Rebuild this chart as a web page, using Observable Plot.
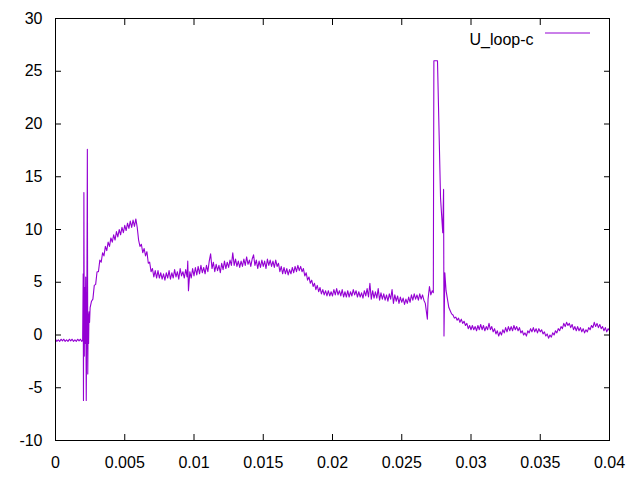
<!DOCTYPE html>
<html>
<head>
<meta charset="utf-8">
<script src="https://cdn.jsdelivr.net/npm/d3@7"></script>
<script src="https://cdn.jsdelivr.net/npm/@observablehq/plot@0.6"></script>
<style>
  html, body { margin: 0; padding: 0; background: #fff; }
  #chart svg { display: block; }
</style>
</head>
<body>
<div id="chart"></div>
<script>
// Series name
const seriesName = "U_loop-c";
// Tick values
const xTicks = [0, 0.005, 0.01, 0.015, 0.02, 0.025, 0.03, 0.035, 0.04];
const yTicks = [-10, -5, 0, 5, 10, 15, 20, 25, 30];

// [time, U] samples, by segment
const baseline = [[0,-0.4],[0.0001,-0.6],[0.0002,-0.45],[0.0003,-0.6],[0.0004,-0.4],[0.0005,-0.55],[0.0006,-0.4],[0.0007,-0.6],[0.0008,-0.45],[0.0009,-0.6],[0.001,-0.4],[0.0011,-0.55],[0.0012,-0.4],[0.0013,-0.6],[0.0014,-0.45],[0.0015,-0.6],[0.0016,-0.4],[0.0017,-0.55],[0.0018,-0.4],[0.0019,-0.6]];
const firstSpikes = [[0.00196,-0.5],[0.002,5.8],[0.00202,-6.2],[0.00205,13.5],[0.00208,-2.0],[0.00211,4.5],[0.00214,-0.8],[0.00218,5.5],[0.00222,-6.2],[0.00226,1.5],[0.0023,17.6],[0.00233,-3.7],[0.00236,2.0],[0.00239,-0.8],[0.00242,2.2],[0.00246,1.2],[0.0025,2.6]];
const rise = [[0.0026,3.2],[0.0027,3.4],[0.0028,4.7],[0.0029,4.8],[0.003,6.0],[0.0031,6.0],[0.0032,7.1],[0.0033,6.9],[0.0034,7.8],[0.0035,7.5],[0.0036,8.4],[0.0037,8.0],[0.0038,8.8],[0.0039,8.4],[0.004,9.2],[0.0041,8.8],[0.0042,9.5],[0.0043,9.0],[0.0044,9.8],[0.0045,9.3],[0.0046,10.0],[0.0047,9.5],[0.0048,10.2],[0.0049,9.7],[0.005,10.4],[0.0051,9.9],[0.0052,10.6],[0.0053,10.1],[0.0054,10.8],[0.0055,10.2],[0.0056,10.9],[0.0057,10.3],[0.0058,11.0],[0.0059,10.2]];
const plateau = [[0.006,9.0],[0.0061,8.4],[0.0062,8.6],[0.0063,7.8],[0.0064,8.2],[0.0065,7.5],[0.0066,7.9],[0.0067,6.8],[0.0068,6.9],[0.0069,6.0],[0.007,6.3],[0.0071,5.5],[0.0072,6.1],[0.0073,5.4],[0.0074,6.1],[0.0075,5.4],[0.0076,5.9],[0.0077,5.3],[0.0078,5.8],[0.0079,5.2],[0.008,5.9],[0.0081,5.4],[0.0082,6.1],[0.0083,5.3],[0.0084,5.9],[0.0085,5.4],[0.0086,6.2],[0.0087,5.5],[0.0088,6.0],[0.0089,5.3],[0.009,6.3],[0.0091,5.6],[0.0092,6.0],[0.0093,5.4],[0.0094,6.2],[0.0095,5.5],[0.00955,7.0],[0.0096,4.2],[0.0097,6.0],[0.0098,5.4],[0.0099,6.3],[0.01,5.6],
[0.0101,6.4],[0.0102,5.7],[0.0103,6.5],[0.0104,5.8],[0.0105,6.6],[0.0106,5.9],[0.0107,6.4],[0.0108,5.8],[0.0109,6.6],[0.011,6.0],[0.0111,7.0],[0.0112,7.7],[0.0113,6.3],[0.0114,6.9],[0.0115,6.0],[0.0116,6.7],[0.0117,6.1],[0.0118,6.6],[0.0119,5.9],[0.012,6.8],[0.0121,6.2],[0.0122,7.0],[0.0123,6.3],[0.0124,6.9],[0.0125,6.4],[0.0126,7.1],[0.0127,6.6],[0.0128,7.8],[0.0129,6.6],[0.013,7.2],[0.0131,6.5],[0.0132,7.0],[0.0133,6.4],[0.0134,7.0],[0.0135,6.5],[0.0136,7.2],[0.0137,6.6],[0.0138,7.4],[0.0139,6.7],[0.014,7.1],[0.0141,6.5],[0.0142,7.2],[0.0143,7.6],[0.0144,6.6],[0.0145,7.1],[0.0146,6.3],[0.0147,7.0],[0.0148,6.4],[0.0149,7.1],[0.015,6.5],
[0.0151,7.0],[0.0152,6.3],[0.0153,7.2],[0.0154,6.6],[0.0155,7.1],[0.0156,6.5],[0.0157,7.0],[0.0158,6.4],[0.0159,7.1],[0.016,6.5],[0.0161,6.8],[0.0162,6.0],[0.0163,6.5],[0.0164,5.8],[0.0165,6.4],[0.0166,5.8],[0.0167,6.3],[0.0168,5.7],[0.0169,6.2],[0.017,5.8],[0.0171,6.4],[0.0172,5.9],[0.0173,6.5],[0.0174,6.0],[0.0175,6.6],[0.0176,6.1],[0.0177,6.5],[0.0178,6.0],[0.0179,6.3],[0.018,5.6],[0.0181,5.9],[0.0182,5.2],[0.0183,5.5],[0.0184,4.9],[0.0185,5.2],[0.0186,4.6],[0.0187,4.9],[0.0188,4.3],[0.0189,4.7],[0.019,4.1],[0.0191,4.5],[0.0192,3.9],[0.0193,4.3],[0.0194,3.8],[0.0195,4.2],[0.0196,3.7],[0.0197,4.2],[0.0198,3.7],[0.0199,4.1],[0.02,3.7]];
const midSection = [[0.0201,4.3],[0.0202,3.8],[0.0203,4.4],[0.0204,3.8],[0.0205,4.2],[0.0206,3.7],[0.0207,4.3],[0.0208,3.6],[0.0209,4.1],[0.021,3.6],[0.0211,4.2],[0.0212,3.6],[0.0213,4.1],[0.0214,3.7],[0.0215,4.3],[0.0216,3.8],[0.0217,4.2],[0.0218,3.6],[0.0219,4.1],[0.022,3.6],[0.0221,4.0],[0.0222,3.5],[0.0223,4.2],[0.0224,3.7],[0.0225,4.4],[0.0226,3.6],[0.0227,4.9],[0.0228,3.4],[0.0229,4.2],[0.023,3.5],[0.0231,4.1],[0.0232,3.5],[0.0233,4.4],[0.0234,3.3],[0.0235,4.0],[0.0236,3.4],[0.0237,3.9],[0.0238,3.3],[0.0239,3.8],[0.024,3.2],[0.0241,3.9],[0.0242,3.4],[0.0243,4.3],[0.0244,3.0],[0.0245,3.8],[0.0246,3.2],[0.0247,3.7],[0.0248,3.0],[0.0249,3.6],[0.025,3.1],[0.0251,3.5],[0.0252,2.9],[0.0253,3.4],[0.0254,3.0],[0.0255,3.6],[0.0256,3.1],[0.0257,3.8],[0.0258,3.3],[0.0259,3.9],[0.026,3.4],[0.0261,3.8],[0.0262,3.3],[0.0263,3.9],[0.0264,3.4],[0.0265,3.8],[0.0266,3.3],[0.0267,3.0],[0.02685,1.5],[0.0269,3.4],[0.027,4.6],[0.0271,3.8],[0.0272,4.2]];
const secondSpike = [[0.02728,4.0],[0.0273,15.7],[0.02732,26],[0.02758,26],[0.0278,13],[0.02796,9.7],[0.02802,13.8],[0.02805,-0.1],[0.02811,5.9],[0.0282,4.2],[0.0283,3.4],[0.0284,2.6],[0.0285,2.3],[0.0286,2.0],[0.0287,1.9],[0.0288,1.6],[0.0289,1.7],[0.029,1.4],[0.0291,1.6],[0.0292,1.2],[0.0293,1.5],[0.0294,1.1],[0.0295,1.3],[0.0296,0.9],[0.0297,1.1],[0.0298,0.6],[0.0299,0.9],[0.03,0.5]];
const tail = [[0.0301,0.9],[0.0302,0.5],[0.0303,0.8],[0.0304,0.4],[0.0305,0.9],[0.0306,0.5],[0.0307,1.0],[0.0308,0.5],[0.0309,0.9],[0.031,0.4],[0.0311,0.8],[0.0312,0.5],[0.0313,1.1],[0.0314,0.5],[0.0315,0.8],[0.0316,0.3],[0.0317,0.6],[0.0318,0.1],[0.0319,0.4],[0.032,-0.1],[0.0321,0.3],[0.0322,0.0],[0.0323,0.5],[0.0324,0.2],[0.0325,0.7],[0.0326,0.3],[0.0327,0.8],[0.0328,0.4],[0.0329,0.8],[0.033,0.4],[0.0331,0.9],[0.0332,0.5],[0.0333,0.8],[0.0334,0.4],[0.0335,0.7],[0.0336,0.2],[0.0337,0.4],[0.0338,0.0],[0.0339,0.2],[0.034,-0.1],[0.0341,0.4],[0.0342,0.2],[0.0343,0.6],[0.0344,0.3],[0.0345,0.7],[0.0346,0.3],[0.0347,0.6],[0.0348,0.2],[0.0349,0.6],[0.035,0.3],
[0.0351,0.5],[0.0352,0.1],[0.0353,0.3],[0.0354,-0.1],[0.0355,0.1],[0.0356,-0.3],[0.0357,0.0],[0.0358,-0.2],[0.0359,0.2],[0.036,0.0],[0.0361,0.4],[0.0362,0.2],[0.0363,0.6],[0.0364,0.4],[0.0365,0.8],[0.0366,0.6],[0.0367,1.1],[0.0368,0.8],[0.0369,1.2],[0.037,0.9],[0.0371,1.1],[0.0372,0.7],[0.0373,1.0],[0.0374,0.5],[0.0375,0.8],[0.0376,0.4],[0.0377,0.8],[0.0378,0.4],[0.0379,0.7],[0.038,0.3],[0.0381,0.6],[0.0382,0.2],[0.0383,0.5],[0.0384,0.3],[0.0385,0.7],[0.0386,0.5],[0.0387,0.9],[0.0388,0.7],[0.0389,1.2],[0.039,0.8],[0.0391,1.1],[0.0392,0.7],[0.0393,1.0],[0.0394,0.6],[0.0395,0.8],[0.0396,0.4],[0.0397,0.7],[0.0398,0.3],[0.0399,0.6],[0.04,0.4]];

const samples = [...baseline, ...firstSpikes, ...rise, ...plateau, ...midSection, ...secondSpike, ...tail]
  .map(([t, u]) => ({t, u}));

const lineColor = "#9400d3";
const fmt = d => String(+d.toFixed(4));

const chart = Plot.plot({
  width: 640,
  height: 480,
  marginLeft: 55,
  marginRight: 31,
  marginTop: 18,
  marginBottom: 40,
  style: {fontFamily: "'Liberation Sans', Arial, sans-serif", fontSize: "16px", color: "#000", background: "#fff"},
  x: {domain: [0, 0.04]},
  y: {domain: [-10, 30]},
  marks: [
    Plot.axisX({anchor: "bottom", ticks: xTicks, tickSize: 0, tickPadding: 16, tickFormat: fmt, label: null, fontSize: 16}),
    Plot.axisX({anchor: "bottom", ticks: xTicks, tickSize: -6, tickFormat: () => "", label: null}),
    Plot.axisX({anchor: "top", ticks: xTicks, tickSize: -6, tickFormat: () => "", label: null}),
    Plot.axisY({anchor: "left", ticks: yTicks, tickSize: 0, tickPadding: 13, tickFormat: fmt, label: null, fontSize: 16}),
    Plot.axisY({anchor: "left", ticks: yTicks, tickSize: -6, tickFormat: () => "", label: null}),
    Plot.axisY({anchor: "right", ticks: yTicks, tickSize: -6, tickFormat: () => "", label: null}),
    Plot.line(samples, {x: "t", y: "u", stroke: lineColor, strokeWidth: 1.1, clip: true}),
    Plot.frame({stroke: "#000", strokeWidth: 1}),
    Plot.text([seriesName], {frameAnchor: "top-right", text: d => d, textAnchor: "end", dx: -76, dy: 15, fontSize: 16, fill: "#000"})
  ]
});

// legend line sample
d3.select(chart).append("line")
  .attr("x1", 545).attr("x2", 590).attr("y1", 33).attr("y2", 33)
  .attr("stroke", lineColor).attr("stroke-width", 1);

document.getElementById("chart").appendChild(chart);
</script>
</body>
</html>
